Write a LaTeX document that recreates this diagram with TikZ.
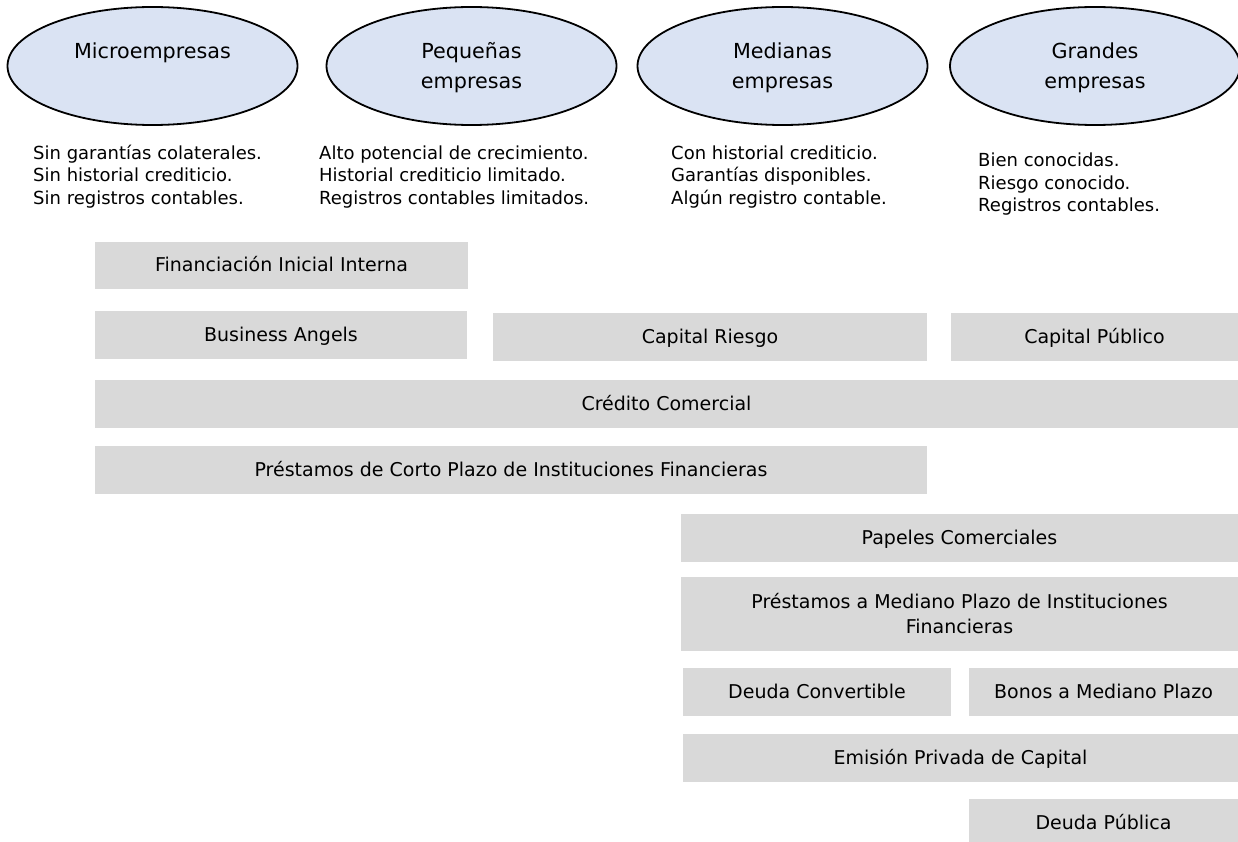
\documentclass[tikz,border=0pt]{standalone}
\usepackage{fontspec}
\setmainfont{DejaVu Sans}
\usetikzlibrary{shapes.geometric}
\definecolor{firmblue}{HTML}{DAE3F3}
\definecolor{fundgray}{HTML}{D9D9D9}

\begin{document}
\begin{tikzpicture}[x=1pt,y=-1pt,
  firm/.style={ellipse, draw=black, line width=1.8pt, fill=firmblue,
    minimum width=290pt, minimum height=118pt, inner sep=0pt},
  firmtext/.style={anchor=north, align=center, inner sep=0pt,
    font=\fontsize{20.7}{30}\selectfont},
  notes/.style={anchor=north west, align=left, inner sep=0pt,
    font=\fontsize{18}{22.4}\selectfont},
  fund/.style={fill=fundgray, inner sep=0pt, text height=13.9pt, text depth=0pt,
    font=\fontsize{19}{25.7}\selectfont},
]
\useasboundingbox (0,0) rectangle (1238,842);

% company sizes
\node[firm] (micro) at (152.5,66) {};
\node[firm] (peq)   at (471.5,66) {};
\node[firm] (med)   at (782.5,66) {};
\node[firm] (gran)  at (1095,66) {};
\node[firmtext] (microT) at (152.5,37.3) {\strut Microempresas};
\node[firmtext] (peqT)   at (471.5,37.3) {\strut Pequeñas\\\strut empresas};
\node[firmtext] (medT)   at (782.5,37.3) {\strut Medianas\\\strut empresas};
\node[firmtext] (granT)  at (1095,37.3) {\strut Grandes\\\strut empresas};

% characteristics of each size
\node[notes] (microN) at (33,143.6) {\strut Sin garantías colaterales.\\\strut Sin historial crediticio.\\\strut Sin registros contables.};
\node[notes] (peqN) at (319,143.6) {\strut Alto potencial de crecimiento.\\\strut Historial crediticio limitado.\\\strut Registros contables limitados.};
\node[notes] (medN) at (671,143.6) {\strut Con historial crediticio.\\\strut Garantías disponibles.\\\strut Algún registro contable.};
\node[notes] (granN) at (978,151) {\strut Bien conocidas.\\\strut Riesgo conocido.\\\strut Registros contables.};

% financing sources
\node[fund, minimum width=373pt, minimum height=47pt]   (fii) at (281.5,265)  {Financiación Inicial Interna};
\node[fund, minimum width=372pt, minimum height=47.5pt] (ba)  at (281,334.75) {Business Angels};
\node[fund, minimum width=434pt, minimum height=48pt]   (cr)  at (710,337)    {Capital Riesgo};
\node[fund, minimum width=287pt, minimum height=48pt]   (cp)  at (1094.5,337) {Capital Público};
\node[fund, minimum width=1143pt, minimum height=48pt]  (cc)  at (666.5,404)  {Crédito Comercial};
\node[fund, minimum width=832pt, minimum height=48pt]   (pcp) at (511,470)    {Préstamos de Corto Plazo de Instituciones Financieras};
\node[fund, minimum width=557pt, minimum height=48pt]   (pc)  at (959.5,538)  {Papeles Comerciales};
\node[fund, minimum width=557pt, minimum height=74pt, align=center, text height=39.6pt]
  (pmp) at (959.5,614) {Préstamos a Mediano Plazo de Instituciones\\Financieras};
\node[fund, minimum width=268pt, minimum height=48pt]   (dc)  at (817,692)    {Deuda Convertible};
\node[fund, minimum width=269pt, minimum height=48pt]   (bmp) at (1103.5,692) {Bonos a Mediano Plazo};
\node[fund, minimum width=555pt, minimum height=48pt]   (epc) at (960.5,758)  {Emisión Privada de Capital};
\node[fund, minimum width=269pt, minimum height=48pt]   (dp)  at (1103.5,823) {Deuda Pública};
\end{tikzpicture}
\end{document}
